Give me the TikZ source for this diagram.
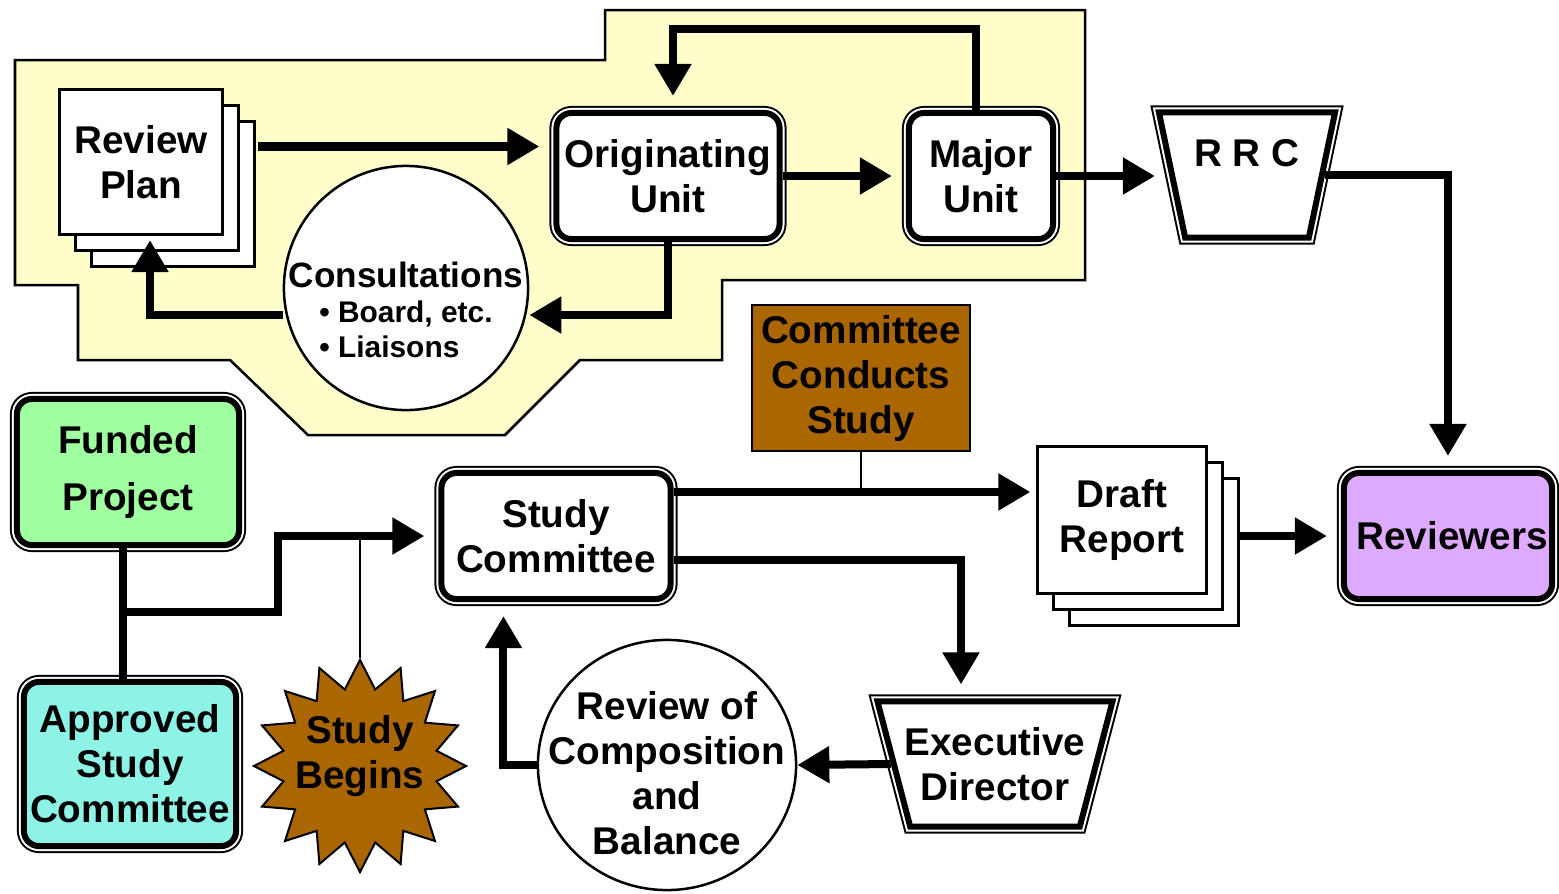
\documentclass[tikz,border=0pt]{standalone}
\usepackage{fontspec}
\setmainfont{Liberation Sans}
\usetikzlibrary{shapes.geometric, arrows.meta, shadows}

\definecolor{zoneyellow}{RGB}{255,255,204}
\definecolor{studybrown}{RGB}{170,102,0}
\definecolor{fundgreen}{RGB}{160,255,160}
\definecolor{approvedcyan}{RGB}{140,243,230}
\definecolor{reviewpurple}{RGB}{221,170,255}

\begin{document}
\begin{tikzpicture}[
  x=0.01cm, y=-0.01cm,
  font=\bfseries\fontsize{11}{12.8}\selectfont,
  unit/.style={
    rectangle, rounded corners=0.15cm, draw=black, line width=0.06cm,
    fill=white, align=center, inner sep=0pt,
    preaction={draw, line width=0.14cm},
    preaction={draw, white, line width=0.10cm}
  },
  tray/.style={
    trapezium, trapezium stretches body=true,
    draw=black, line width=0.06cm, fill=white, align=center, inner sep=0pt,
    preaction={draw, line width=0.14cm},
    preaction={draw, white, line width=0.10cm}
  },
  sheet/.style={
    rectangle, draw=black, line width=0.03cm, fill=white, align=center,
    inner sep=0pt,
    double copy shadow={shadow xshift=0.16cm, shadow yshift=-0.16cm}
  },
  bubble/.style={draw=black, line width=0.025cm, fill=white, inner sep=0pt},
  arr/.style={-{Triangle[length=0.32cm, width=0.35cm]}, line width=0.08cm},
  arrgap/.style={arr, shorten >=0.14cm},
  link/.style={line width=0.02cm}
]
  \useasboundingbox (0,0) rectangle (1559,893);

  % Zone
  \draw[fill=zoneyellow, line width=0.025cm]
    (15,60) -- (605,60) -- (605,10) -- (1085,10) -- (1085,280) -- (722,280)
    -- (722,360) -- (580,360) -- (505,435) -- (308,435) -- (230,360)
    -- (78,360) -- (78,285) -- (15,285) -- cycle;

  % Nodes
  \node[sheet, minimum width=1.62cm, minimum height=1.45cm] (plan) at (141,162) {Review\\Plan};
  \node[unit, minimum width=2.23cm, minimum height=1.26cm] (orig) at (668,176) {Originating\\Unit};
  \node[unit, minimum width=1.44cm, minimum height=1.26cm] (major) at (981,176) {Major\\Unit};
  \node[tray, minimum width=1.76cm, minimum height=1.25cm, trapezium angle=110] (rrc) at (1247,175) {R R C\\~};
  \node[bubble, circle, minimum size=2.44cm,
    label={[yshift=-0.27cm, align=center, font=\bfseries\fontsize{10}{10}\selectfont]center:Consultations\\
      {\fontsize{8.5}{10}\selectfont\begin{tabular}[t]{@{}l@{}}\textbullet\ Board, etc.\\\textbullet\ Liaisons\end{tabular}}}]
    (cons) at (406,288) {};
  \node[draw, line width=0.025cm, fill=studybrown, minimum width=2.18cm, minimum height=1.46cm,
    align=center, inner sep=0pt] (ccs) at (861,378) {Committee\\Conducts\\Study};
  \node[unit, fill=fundgreen, minimum width=2.22cm, minimum height=1.46cm,
    font=\bfseries\fontsize{11}{16.2}\selectfont] (funded) at (128,472) {Funded\\Project};
  \node[unit, minimum width=2.29cm, minimum height=1.26cm] (study) at (556,536) {Study\\Committee};
  \node[sheet, minimum width=1.68cm, minimum height=1.46cm] (draft) at (1122,520) {Draft\\Report};
  \node[unit, fill=reviewpurple, minimum width=2.08cm, minimum height=1.26cm] (rev) at (1448,536) {\hspace{0.08cm}Reviewers};
  \node[unit, fill=approvedcyan, minimum width=2.12cm, minimum height=1.64cm] (approved) at (130,764) {Approved\\Study\\Committee};
  \node[star, star points=16, star point ratio=1.36, minimum size=2.12cm, draw, line width=0.02cm,
    fill=studybrown, inner sep=0pt,
    label={[align=center, yshift=0.1cm]center:Study\\Begins}] (begins) at (360,766) {};
  \node[bubble, ellipse, minimum width=2.58cm, minimum height=2.50cm,
    label={[align=center, yshift=-0.08cm]center:Review of\\Composition\\and\\Balance}] (comp) at (667,765) {};
  \node[tray, minimum width=2.0cm, minimum height=1.25cm, trapezium angle=114, inner xsep=-0.055cm] (exec) at (995,764) {Executive\\Director};

  % Arrows
  \coordinate (planout) at ([xshift=0.34cm, yshift=0.155cm]plan.east);
  \draw[arrgap] (planout) -- (planout -| orig.west);
  \draw[arrgap] (orig.east) -- (major.west);
  \draw[arrgap] (major.east) -- (major.east -| rrc.west);
  \draw[arrgap] (rrc.east) -| (rev.north);
  \draw[arrgap] ([xshift=-0.05cm]major.north) -- ++(0,-81) -| ([xshift=0.05cm]orig.north);
  \draw[arr] (orig.south) |- ([yshift=-0.27cm]cons.east);
  \draw[arr, shorten >=0.04cm] ([yshift=-0.27cm]cons.west) -| ([xshift=0.09cm]plan.south);

  \coordinate (fork) at (123,612);
  \draw[line width=0.07cm] (funded.south -| fork) -- (approved.north -| fork);
  \draw[arrgap] (fork) -| ([xshift=-1.6cm]study.west) -- (study.west);
  \draw[link] (begins.north) -- (begins.north |- study.west);

  \coordinate (studyout) at ([yshift=0.44cm]study.east);
  \draw[arr, shorten >=0.06cm] (studyout) -- (studyout -| draft.west);
  \draw[link] (ccs.south) -- (ccs.south |- studyout);
  \draw[arrgap] ([yshift=-0.24cm]study.east) -| ([xshift=-0.34cm]exec.north);
  \draw[arr] (exec.west) -- (comp.east);
  \draw[arrgap] (comp.west) -| ([xshift=-0.525cm]study.south);
  \draw[arrgap] (rev.west -| draft.east) ++(30,0) -- (rev.west);
\end{tikzpicture}
\end{document}
